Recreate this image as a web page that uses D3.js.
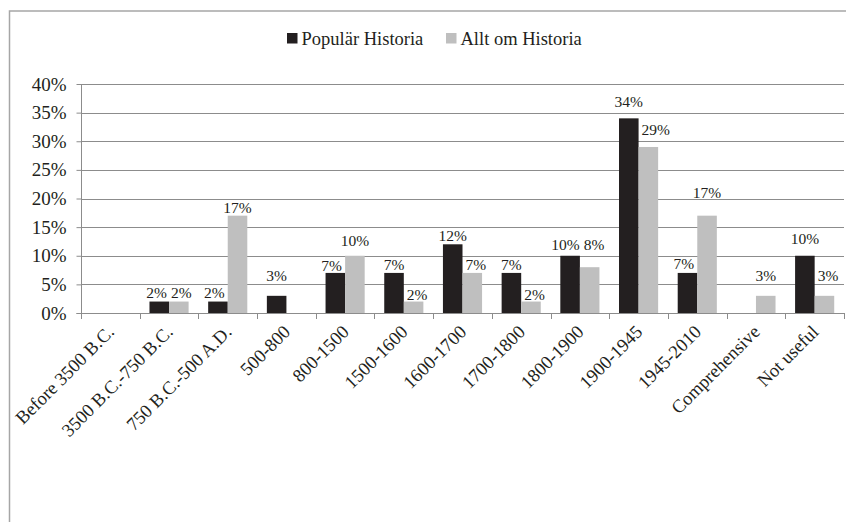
<!DOCTYPE html>
<html>
<head>
<meta charset="utf-8">
<script src="https://cdn.jsdelivr.net/npm/d3@7"></script>
<style>
  html, body { margin: 0; padding: 0; background: #fff; }
  svg { display: block; }
  svg text { font-family: 'Liberation Serif', 'DejaVu Serif', serif !important; fill: #231f20; }
</style>
</head>
<body>
<svg id="chart" width="846" height="522"></svg>
<script>
const categories = ["Before 3500 B.C.", "3500 B.C.-750 B.C.", "750 B.C.-500 A.D.", "500-800", "800-1500", "1500-1600", "1600-1700", "1700-1800", "1800-1900", "1900-1945", "1945-2010", "Comprehensive", "Not useful"];
const seriesNames = ["Populär Historia", "Allt om Historia"];
const populärHistoria = [0, 2, 2, 3, 7, 7, 12, 7, 10, 34, 7, 0, 10];
const alltOmHistoria = [0, 2, 17, 0, 10, 2, 7, 2, 8, 29, 17, 3, 3];
const yTicks = [0, 5, 10, 15, 20, 25, 30, 35, 40];
const seriesColors = ["#231f20", "#bfbfbf"];

// layout only: pixel gap between each bar top and its data label (labels were hand-placed in the original)
const labelGapBlack = [3, 4, 4, 15, 1.5, 2.7, 3.3, 2.7, 5.7, 11, 4, 3, 11.7];
const labelGapGray = [3, 4, 2.7, 3, 9.7, 1.7, 2.7, 1.7, 17, 12, 18, 15, 15];
const labelGaps = [labelGapBlack, labelGapGray];

const FONT = "'Liberation Serif', 'DejaVu Serif', serif";
const svg = d3.select("#chart");
const W = 846, H = 522;
const plot = { left: 81, right: 844, top: 84, bottom: 313 };

// outer border
svg.append("rect")
  .attr("x", 9.5).attr("y", 11).attr("width", W + 20).attr("height", H + 20)
  .attr("fill", "none").attr("stroke", "#a6a6a6").attr("stroke-width", 1.5);

const x = d3.scaleBand().domain(categories).range([plot.left, plot.right]).padding(0);
const step = x.step();
const x1 = d3.scaleBand().domain(seriesNames).range([step / 6, step * 5 / 6]).padding(0);
const y = d3.scaleLinear().domain([0, 40]).range([plot.bottom, plot.top]);

// gridlines
svg.append("g").selectAll("line").data(yTicks.filter(t => t > 0)).join("line")
  .attr("x1", plot.left).attr("x2", plot.right)
  .attr("y1", d => Math.round(y(d)) + 0.5).attr("y2", d => Math.round(y(d)) + 0.5)
  .attr("stroke", "#8c8c8c").attr("stroke-width", 1);

// bars
const data = categories.map((c, i) => ({ cat: c, i, vals: [populärHistoria[i], alltOmHistoria[i]] }));
const groups = svg.append("g").selectAll("g").data(data).join("g")
  .attr("transform", d => `translate(${x(d.cat)},0)`);
groups.selectAll("rect").data(d => d.vals.map((v, j) => ({ v, s: seriesNames[j], j })))
  .join("rect")
  .attr("x", d => x1(d.s)).attr("width", x1.bandwidth())
  .attr("y", d => y(d.v)).attr("height", d => y(0) - y(d.v))
  .attr("fill", d => seriesColors[d.j]);

// data labels (nudged sideways to avoid neighbouring bars and labels)
groups.each(function (gd) {
  const g = d3.select(this);
  const items = gd.vals.map((v, j) => ({ v, s: seriesNames[j], j })).filter(d => d.v > 0);
  const labels = g.selectAll("text").data(items)
    .join("text")
    .attr("x", d => x1(d.s) + x1.bandwidth() / 2)
    .attr("y", d => y(d.v) - labelGaps[d.j][gd.i])
    .attr("text-anchor", "middle")
    .attr("font-family", FONT)
    .attr("font-size", "15.5px")
    .text(d => d.v + "%");
  labels.each(function (d) {
    const other = 1 - d.j;
    const ov = gd.vals[other];
    if (ov <= 0) return;
    const b = this.getBBox();
    const barTop = y(ov);
    if (b.y + b.height - 3 <= barTop) return;
    const cx = +this.getAttribute("x");
    if (d.j === 1) {
      const barRight = x1(seriesNames[0]) + x1.bandwidth();
      const need = barRight + 3 - b.x;
      if (need > 0) this.setAttribute("x", cx + need);
    } else {
      const barLeft = x1(seriesNames[1]);
      const need = b.x + b.width + 3 - barLeft;
      if (need > 0) this.setAttribute("x", cx - need);
    }
  });
  const nodes = labels.nodes();
  if (nodes.length === 2) {
    const b0 = nodes[0].getBBox(), b1 = nodes[1].getBBox();
    const vOverlap = !(b0.y + b0.height < b1.y || b1.y + b1.height < b0.y);
    const gap = 4;
    const overlap = (b0.x + b0.width + gap) - b1.x;
    if (vOverlap && overlap > 0) {
      nodes[0].setAttribute("x", +nodes[0].getAttribute("x") - overlap / 2);
      nodes[1].setAttribute("x", +nodes[1].getAttribute("x") + overlap / 2);
    }
  }
});

// y axis
const yAxis = svg.append("g").attr("transform", `translate(${plot.left + 0.5},0)`)
  .call(d3.axisLeft(y).tickValues(yTicks).tickSize(5).tickPadding(10).tickFormat(d => d + "%"));
yAxis.attr("font-family", FONT);
yAxis.select(".domain").attr("stroke", "#8c8c8c").attr("d", `M-5,${plot.bottom + 0.5}H0V${plot.top}`);
yAxis.selectAll(".tick line").attr("stroke", "#8c8c8c");
yAxis.selectAll(".tick text").attr("font-size", "19px").attr("font-family", FONT).attr("fill", "#231f20");

// x axis line and boundary ticks
const xg = svg.append("g");
xg.append("line").attr("x1", plot.left).attr("x2", plot.right)
  .attr("y1", plot.bottom + 0.5).attr("y2", plot.bottom + 0.5).attr("stroke", "#8c8c8c");
const bounds = categories.map(c => x(c)).concat([x(categories[categories.length - 1]) + step]);
xg.selectAll("line.tk").data(bounds).join("line").attr("class", "tk")
  .attr("x1", d => Math.round(d) + 0.5).attr("x2", d => Math.round(d) + 0.5)
  .attr("y1", plot.bottom).attr("y2", plot.bottom + 6).attr("stroke", "#8c8c8c");

// x labels
xg.selectAll("text").data(categories).join("text")
  .attr("transform", d => `translate(${x(d) + step / 2 + 5},${plot.bottom + 20}) rotate(-45)`)
  .attr("text-anchor", "end")
  .attr("font-family", FONT)
  .attr("font-size", "18.5px")
  .text(d => d);

// legend
const legend = svg.append("g");
const legendItems = [{ name: seriesNames[0], x: 287 }, { name: seriesNames[1], x: 446 }];
legendItems.forEach((it, j) => {
  legend.append("rect").attr("x", it.x).attr("y", 33).attr("width", 10.5).attr("height", 10.5)
    .attr("fill", seriesColors[j]);
  legend.append("text").attr("x", it.x + 14.5).attr("y", 44.5)
    .attr("font-family", FONT).attr("font-size", "18.5px").text(it.name);
});
</script>
</body>
</html>
